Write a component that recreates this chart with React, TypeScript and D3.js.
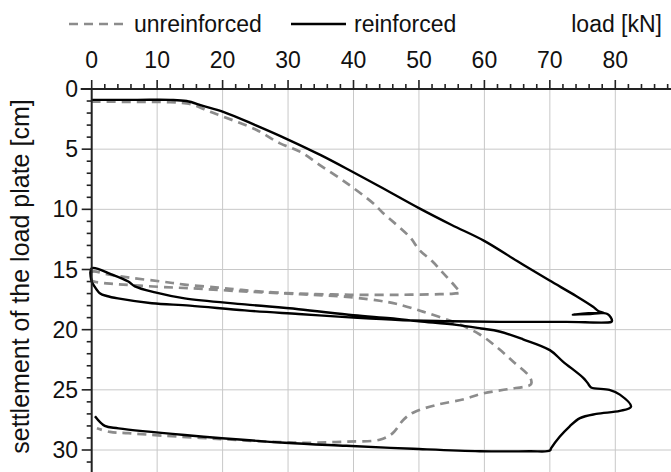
import React from 'react';
import * as d3 from 'd3';

// load [kN] vs settlement [cm]
const reinforcedLoad = [
  0, 7, 12, 14.5, 17, 20.1, 25, 30, 35, 39.9, 44, 50, 55, 59.9, 65, 69.9, 74, 76.6, 77.4, 78.2, 73.5, 78.8, 79.5, 79.4,
  72.5, 62.3, 55, 47, 40, 31.6, 23.4, 15, 9.2, 4, 2.3, 1.3, 0.3, 0,
  0, 3, 5.6, 6.6, 9.7, 14.2, 23.4, 31.6, 40, 45.6, 50, 55.7, 59.5, 62.3, 65.9, 70, 72, 75.1, 75.8, 76.3, 79.1, 80.7, 82.4,
  80.7, 77.1, 74.6, 73, 71.5, 70.2, 70, 66.9, 59.3, 49.1, 38.9, 29.5, 14.2, 4.1, 2.0, 0.5,
];
const reinforcedSettlement = [
  0.9, 0.9, 0.9, 1.0, 1.4, 1.9, 3.0, 4.2, 5.5, 6.9, 8.1, 9.9, 11.3, 12.6, 14.3, 15.9, 17.2, 18.1, 18.45, 18.6, 18.75, 18.7, 19.25, 19.35,
  19.35, 19.35, 19.3, 19.2, 19.0, 18.7, 18.4, 18.0, 17.8, 17.4, 17.2, 17.0, 16.3, 16.0,
  14.9, 15.4, 16.0, 16.4, 16.9, 17.4, 17.9, 18.3, 18.8, 19.05, 19.3, 19.6, 19.9, 20.15, 20.8, 21.7, 22.65, 24.0, 24.45, 24.8, 25.0, 25.4, 26.4,
  26.75, 27.0, 27.35, 28.05, 28.9, 29.85, 30.05, 30.1, 30.1, 29.9, 29.65, 29.4, 28.75, 28.2, 28.0, 27.2,
];

const unreinforcedLoad = [
  0, 7, 12, 14.5, 16, 18.1, 20.1, 25.2, 28.7, 31.8, 34.8, 38.9, 43, 44.5, 48.6, 50.1, 52, 53.7, 55.7, 56.3,
  55.3, 53.2, 47, 39.5, 31.8, 27.7, 22.9, 19.3, 14.2, 10.7, 6.1, 2.5, 0,
  0, 1.5, 3.3, 10.7, 14.7, 22.6, 31.8, 39.5, 44, 46.5, 50.6, 55.7, 59.3, 62, 64.5, 66.9, 67.2, 67,
  63.5, 59.8, 56.7, 52.7, 49.1, 47.6, 46, 44, 38.9, 33.8, 28.8, 20, 10.7, 5.6, 2.8, 0.8,
];
const unreinforcedSettlement = [
  1.05, 1.07, 1.1, 1.2, 1.4, 1.9, 2.3, 3.4, 4.5, 5.2, 6.3, 7.8, 9.5, 10.3, 12.3, 13.4, 14.3, 15.3, 16.5, 16.9,
  17.0, 17.05, 17.1, 17.1, 17.0, 16.9, 16.7, 16.5, 16.25, 16.0, 15.7, 15.4, 15.2,
  15.9, 16.1, 16.2, 16.45, 16.55, 16.8, 17.05, 17.3, 17.6, 17.85, 18.5, 19.45, 20.4, 21.5, 22.7, 23.9, 24.4, 24.6,
  24.95, 25.3, 25.8, 26.25, 26.9, 27.5, 28.6, 29.15, 29.3, 29.4, 29.35, 29.1, 28.8, 28.6, 28.5, 28.2,
];

const xTicks = [0, 10, 20, 30, 40, 50, 60, 70, 80];
const yTicks = [0, 5, 10, 15, 20, 25, 30];

const W = 671;
const H = 472;
const FONT = 'Arial, "Liberation Sans", sans-serif';

export default function App() {
  const x = d3.scaleLinear().domain([0, 80]).range([91.7, 615.3]);
  const y = d3.scaleLinear().domain([0, 30]).range([89, 450]);
  const xMax = x.invert(W);
  const yMax = y.invert(H);

  const line = d3
    .line<[number, number]>()
    .x((d) => x(d[0]))
    .y((d) => y(d[1]))
    .curve(d3.curveCatmullRom.alpha(0.5));

  const reinforced = reinforcedLoad.map((v, i) => [v, reinforcedSettlement[i]] as [number, number]);
  const unreinforced = unreinforcedLoad.map((v, i) => [v, unreinforcedSettlement[i]] as [number, number]);

  const xMinor = d3.range(0, xMax, 2);
  const yMinor = d3.range(0, yMax, 1);

  return (
    <svg width={W} height={H} style={{ position: 'absolute', left: 0, top: 0, background: '#fff' }} fontFamily={FONT}>
      {/* grid */}
      <g stroke="#c8c8c8" strokeWidth={1}>
        {xTicks.slice(1).map((t) => (
          <line key={'gx' + t} x1={x(t)} x2={x(t)} y1={y(0)} y2={H} />
        ))}
        {yTicks.slice(1).map((t) => (
          <line key={'gy' + t} x1={x(0)} x2={W} y1={y(t)} y2={y(t)} />
        ))}
      </g>

      {/* data */}
      <path d={line(unreinforced) || ''} fill="none" stroke="#8c8c8c" strokeWidth={2.7} strokeDasharray="9,6" />
      <path d={line(reinforced) || ''} fill="none" stroke="#000" strokeWidth={2.4} strokeLinejoin="round" />

      {/* axes */}
      <g stroke="#222" strokeWidth={2}>
        <line x1={x(0) - 11} x2={W} y1={y(0)} y2={y(0)} />
        {xMinor.map((t) => (
          <line key={'tx' + t} x1={x(t)} x2={x(t)} y1={y(0)} y2={y(0) - (t % 10 === 0 ? 9 : 5)} strokeWidth={1.6} />
        ))}
        <line x1={x(0)} x2={x(0)} y1={y(0)} y2={H} />
        {yMinor.map((t) => (
          <line key={'ty' + t} x1={x(0)} x2={x(0) - (t % 5 === 0 ? 10 : 5)} y1={y(t)} y2={y(t)} strokeWidth={1.6} />
        ))}
      </g>
      <g fontSize={23} fill="#111">
        {xTicks.map((t) => (
          <text key={'lx' + t} x={x(t)} y={68} textAnchor="middle">
            {t}
          </text>
        ))}
        {yTicks.map((t) => (
          <text key={'ly' + t} x={78} y={y(t) + 8} textAnchor="end">
            {t}
          </text>
        ))}
        <text transform={`translate(29,${(95 + 458) / 2}) rotate(-90)`} textAnchor="middle" fontSize={25}>
          settlement of the load plate [cm]
        </text>
      </g>

      {/* legend */}
      <line x1={69} x2={126} y1={24} y2={24} stroke="#8c8c8c" strokeWidth={2.7} strokeDasharray="9,6" />
      <line x1={291} x2={346} y1={24} y2={24} stroke="#000" strokeWidth={2.4} />
      <g fontSize={23} fill="#111">
        <text x={134} y={32}>unreinforced</text>
        <text x={354} y={32}>reinforced</text>
        <text x={662} y={32} textAnchor="end">load [kN]</text>
      </g>
    </svg>
  );
}
